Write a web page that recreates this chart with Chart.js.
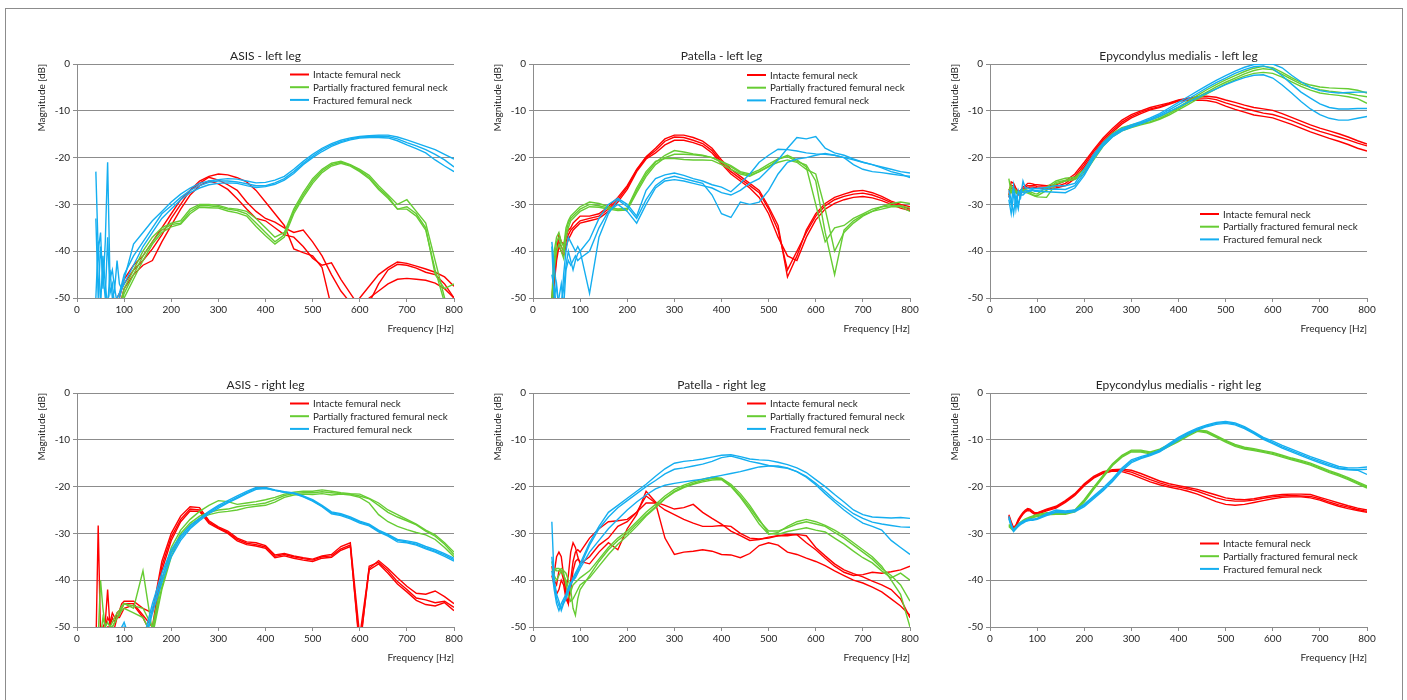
<!DOCTYPE html>
<html><head><meta charset="utf-8">
<script src="https://cdn.jsdelivr.net/npm/chart.js@4.4.1/dist/chart.umd.min.js"></script>
<style>
html,body{margin:0;padding:0;background:#fff;width:1407px;height:700px;overflow:hidden}
#frame{position:absolute;left:5px;top:8px;width:1398px;height:720px;border:1px solid #8c8c8c;box-sizing:border-box}
canvas{position:absolute}
</style></head><body>
<div id="frame"></div>
<canvas id="c1" width="442" height="305" style="left:32px;top:34px"></canvas>
<canvas id="c2" width="442" height="305" style="left:488px;top:34px"></canvas>
<canvas id="c3" width="442" height="305" style="left:945px;top:34px"></canvas>
<canvas id="c4" width="442" height="305" style="left:32px;top:363px"></canvas>
<canvas id="c5" width="442" height="305" style="left:488px;top:363px"></canvas>
<canvas id="c6" width="442" height="305" style="left:945px;top:363px"></canvas>
<script>
// Frequency grid [Hz]
const FREQ = [40,45,50,55,60,65,70,75,80,85,90,95,100,
  120,140,160,180,200, 220,240,260,280,300, 320,340,360,380,400,
  420,440,460,480,500, 520,540,560,580,600, 620,640,660,680,700, 720,740,760,780,800];

const SERIES_NAMES = ['Intacte femural neck','Partially fractured femural neck','Fractured femural neck'];
const X_TICKS = [0,100,200,300,400,500,600,700,800];
const Y_TICKS = [0,-10,-20,-30,-40,-50];

// ---- ASIS - left leg ----
const asisL_int1 = [-55,-55,-55,-55,-55,-55,-55,-55,-53,-50,-49,-48,-47,
  -44,-42,-39.5,-36.5,-33, -30,-27,-25,-24,-23.5, -23.7,-24.3,-25.2,-27,-29.5,
  -32,-34.5,-39.5,-40.3,-41, -43.5,-52,-54,-53,-50, -47.5,-45,-43.5,-42.3,-42.6, -43.2,-43.8,-44.5,-45.5,-47.5];
const asisL_int2 = [-55,-55,-55,-55,-55,-55,-55,-55,-55,-52,-50,-48,-46,
  -43,-41,-38,-35,-32, -29,-27,-25.5,-24.2,-24.8, -25.8,-27,-29.5,-31.5,-33,
  -33.8,-35,-36,-35.5,-38, -41,-45,-48.5,-51,-52, -50,-48.5,-47,-46,-45.8, -46,-46.2,-46.8,-48,-50];
const asisL_int3 = [-55,-55,-55,-55,-55,-55,-55,-55,-55,-55,-52,-50,-48,
  -45,-43,-42,-38,-34.5, -31,-28,-26,-25,-25.6, -26.8,-28.8,-31,-33,-33.5,
  -35,-36.5,-37,-39,-41.5, -43,-42.5,-46,-49,-52, -51,-47,-44,-42.8,-43, -43.6,-44.5,-45,-47,-50];
const asisL_part1 = [-55,-55,-55,-55,-55,-55,-55,-55,-55,-55,-52,-50,-48,
  -44,-40,-37,-35,-34, -33.5,-31,-30,-30,-30.2, -30.8,-31,-31.5,-33,-35,
  -37,-36,-31,-27.5,-24.5, -22.5,-21.2,-20.8,-21.5,-22.5, -23.8,-26,-28,-30,-29, -31.5,-34,-42,-50,-52];
const asisL_part2 = [-55,-55,-55,-55,-55,-55,-55,-55,-55,-55,-53,-51,-49,
  -45,-41,-38,-35.5,-34.3, -34,-31.5,-30.3,-30.3,-30.5, -31,-31.3,-32,-34,-36,
  -38,-36.5,-31.5,-28,-25, -22.8,-21.5,-21,-21.6,-22.8, -24.2,-26.5,-28.3,-31,-30.5, -32,-35,-45,-48,-47];
const asisL_part3 = [-55,-55,-55,-55,-55,-55,-55,-55,-55,-55,-55,-52,-50,
  -46,-42,-38.5,-36,-34.8, -34.2,-32,-30.6,-30.7,-30.8, -31.4,-31.8,-32.5,-34.7,-36.7,
  -38.5,-37,-32,-28.5,-25.5, -23.2,-21.8,-21.2,-21.8,-23, -24.5,-26.8,-28.7,-31,-31, -32.5,-35.5,-44,-51,-53];
const asisL_frac1 = [-23,-40,-36,-48,-38,-21,-46,-44,-48,-42,-47,-48,-46,
  -38.5,-36,-33.5,-31.5,-29.5, -27.8,-26.5,-25.5,-25,-24.7, -24.5,-24.6,-25,-25.4,-25.3,
  -24.8,-24,-22.5,-20.8,-19.3, -18,-17,-16.3,-15.8,-15.5, -15.3,-15.2,-15.2,-15.6,-16.2, -16.9,-17.6,-18.3,-19.3,-20.3];
const asisL_frac2 = [-33,-50,-39,-45,-50,-37,-49,-47,-52,-50,-49,-47,-45,
  -41,-38,-35,-32,-30.3, -28.5,-27,-26,-25.3,-25, -25,-25.2,-25.6,-26,-26,
  -25.4,-24.5,-23,-21.2,-19.7, -18.3,-17.3,-16.6,-16,-15.6, -15.5,-15.4,-15.5,-16,-16.8, -17.5,-18.3,-19.3,-20.5,-22];
const asisL_frac3 = [-50,-38,-52,-41,-47,-52,-44,-50,-48,-51,-50,-48,-47,
  -43,-39,-36,-33,-31, -29,-27.5,-26.5,-25.8,-25.5, -25.4,-25.5,-26,-26.4,-26.2,
  -25.7,-24.8,-23.4,-21.5,-20, -18.7,-17.6,-16.8,-16.2,-15.8, -15.7,-15.7,-15.8,-16.4,-17.3, -18.1,-19,-20.5,-21.8,-23];

// ---- Patella - left leg ----
const patL_int1 = [-50,-44,-40,-36.5,-38,-38.5,-37,-35.5,-35,-34,-33.5,-33,-32.5,
  -32.5,-32,-30.5,-28.5,-26, -22.5,-19.8,-18,-16,-15.2, -15.2,-15.7,-16.5,-18,-20.5,
  -22.5,-24,-25.5,-27,-30.5, -34.5,-45.5,-41,-35.5,-32, -29.8,-28.5,-27.8,-27.2,-27, -27.5,-28.3,-29.3,-30,-30.5];
const patL_int2 = [-52,-46,-41,-38,-39,-40,-38,-36.5,-35.5,-35,-34.5,-34,-33.5,
  -33,-32.5,-31,-29,-26.3, -22.7,-20,-18.5,-16.5,-15.6, -15.7,-16.3,-17,-18.5,-21,
  -23,-24.5,-26,-27.5,-31, -35.5,-44,-40,-36,-32.5, -30.3,-29,-28.3,-27.8,-27.6, -28,-28.7,-29.6,-30.3,-31];
const patL_int3 = [-55,-47,-42,-39,-40,-41,-39,-37.5,-36.5,-35.5,-35,-34.5,-34,
  -33.5,-33,-31.5,-29.5,-26.8, -23,-20.3,-19,-17.3,-16.3, -16.3,-16.8,-17.5,-19,-21.3,
  -23.5,-25,-26.5,-28.5,-32, -37,-41,-42,-37,-33.3, -31,-29.8,-29,-28.5,-28.3, -28.6,-29.2,-30,-30.8,-31.3];
const patL_part1 = [-52,-42,-38,-37,-39,-40,-36,-34,-33,-32.5,-32,-31.5,-31,
  -30,-30.3,-30.8,-31,-31, -27,-23.5,-21,-19.5,-18.5, -18.8,-19.2,-19.5,-20,-21,
  -22,-23.2,-23.8,-23,-22, -20.3,-19.5,-20.5,-22,-30, -38,-35,-34.5,-33,-32, -31,-30.5,-30.3,-30.3,-30.8];
const patL_part2 = [-55,-44,-40,-38.5,-40,-41.5,-37,-35,-33.5,-33,-32.5,-32,-31.5,
  -30.5,-30.6,-31,-31.3,-31.2, -27.5,-24,-21.5,-20,-19.3, -19.3,-19.4,-19.6,-20,-20.8,
  -21.7,-23,-23.5,-22.6,-21.4, -20.3,-19.8,-20.8,-21.6,-25, -36,-45,-35.5,-33.5,-32.3, -31.5,-31,-30.5,-30.5,-31.5];
const patL_part3 = [-50,-40,-37,-36,-38,-39,-35,-33.5,-32.5,-32,-31.5,-31,-30.5,
  -29.5,-29.8,-30.5,-31,-30.8, -26.5,-23,-20.8,-20.2,-20.2, -20.4,-20.5,-20.5,-20.6,-21.5,
  -22.5,-23.5,-24,-23,-21.8, -21,-20.5,-21,-22.5,-23.5, -31,-40,-36,-34,-32.5, -31.5,-30.5,-29.8,-29.5,-29.8];
const patL_frac1 = [-39,-50,-47,-52,-53,-45,-40,-37,-38,-39,-40,-39,-40,
  -49,-37,-32,-29,-30.5, -33,-29,-26,-24.5,-24, -24.5,-25,-25.5,-28,-32,
  -32.8,-29.5,-30,-29.5,-27, -23.5,-21,-20.3,-20,-19.5, -19.1,-19.5,-20,-21.5,-22.5, -23,-23.2,-23.5,-23.8,-24];
const patL_frac2 = [-45,-48,-52,-50,-47,-52,-44,-42,-43,-42,-41,-42,-41.5,
  -40,-35,-31.5,-30,-31.5, -34,-30,-26.5,-25,-24.7, -25,-25.5,-26,-26.5,-27.5,
  -28,-27,-25.5,-24.5,-22.5, -20.5,-18,-15.7,-16,-15.5, -18,-19,-19.5,-20.3,-21, -21.5,-22,-22.5,-23,-23.3];
const patL_frac3 = [-38,-43,-48,-52,-51,-48,-43,-40,-42,-44,-42,-40.5,-40,
  -37.5,-33,-30,-28.7,-30, -32.5,-27,-24.5,-23.7,-23.3, -23.8,-24.5,-25,-25.8,-26.3,
  -27.3,-25.5,-23.5,-21,-19.5, -18.2,-18.3,-18.6,-19,-19.2, -19.3,-19.5,-20,-20.5,-21, -21.5,-22.2,-23,-23.5,-24.3];

// ---- Epycondylus medialis - left leg ----
const epiL_int1 = [-28,-25.2,-25.5,-26.5,-27.3,-27,-26.3,-26,-25.5,-25.5,-25.6,-25.8,-25.8,
  -26,-25.8,-25,-23.5,-21, -18.3,-15.8,-13.8,-12,-10.8, -10,-9.3,-8.8,-8.3,-7.7,
  -7.3,-7,-6.9,-7.1,-7.7, -8.2,-8.8,-9.3,-9.6,-9.9, -10.6,-11.4,-12.2,-13,-13.7, -14.3,-14.9,-15.6,-16.4,-17.1];
const epiL_int2 = [-27,-26,-26,-27,-27.8,-27.5,-26.8,-26.3,-26,-26,-26,-26,-26.2,
  -26.3,-26.2,-25.5,-24,-21.5, -18.7,-16.2,-14.2,-12.4,-11.2, -10.3,-9.6,-9.1,-8.4,-7.8,
  -7.5,-7.3,-7.3,-7.6,-8.3, -8.9,-9.5,-10,-10.5,-10.8, -11.4,-12.1,-12.9,-13.7,-14.4, -15,-15.6,-16.2,-16.9,-17.5];
const epiL_int3 = [-28.5,-26.5,-26.5,-27.5,-28,-27.8,-27,-26.6,-26.4,-26.3,-26.3,-26.4,-26.5,
  -26.7,-26.5,-26,-24.5,-22, -19.2,-16.6,-14.6,-12.8,-11.5, -10.6,-9.8,-9.3,-8.6,-7.9,
  -7.8,-7.7,-7.8,-8.2,-9, -9.7,-10.3,-10.9,-11.2,-11.5, -12.2,-12.9,-13.7,-14.5,-15.2, -15.9,-16.5,-17.2,-18,-18.6];
const epiL_part1 = [-24.5,-27.5,-26.5,-27,-27.5,-27.2,-26.8,-26.8,-27,-27.3,-27.5,-27.7,-27.8,
  -26.3,-25,-24.4,-24.2,-22.5, -19.5,-16.8,-14.8,-13.6,-13, -12.5,-12,-11.3,-10.3,-9.2,
  -8,-6.7,-5.5,-4.4,-3.4, -2.5,-1.6,-0.9,-0.5,-0.8, -1.8,-2.9,-3.9,-4.5,-4.9, -5.1,-5.2,-5.3,-5.6,-6.2];
const epiL_part2 = [-27,-26,-27.5,-27.2,-27.4,-27.3,-27,-27.1,-27.3,-27.6,-27.9,-28.1,-28.2,
  -27,-25.3,-24.8,-24.5,-23, -20,-17.2,-15.2,-14,-13.3, -12.8,-12.3,-11.6,-10.6,-9.5,
  -8.3,-7.1,-6,-4.9,-3.9, -3,-2.1,-1.4,-1,-1.2, -2.2,-3.3,-4.3,-5,-5.5, -5.8,-6,-6.3,-6.7,-7];
const epiL_part3 = [-28,-27,-27,-27.5,-27.8,-27.5,-27.3,-27.4,-27.6,-27.8,-28,-28.2,-28.4,
  -28.5,-25.6,-25,-24.7,-23.5, -20.5,-17.6,-15.5,-14.3,-13.6, -13,-12.5,-11.8,-10.9,-9.8,
  -8.7,-7.5,-6.4,-5.3,-4.3, -3.4,-2.6,-2,-1.8,-2, -2.8,-3.8,-4.8,-5.6,-6.2, -6.5,-6.7,-7,-7.4,-8.4];
const epiL_frac1 = [-28,-30,-26,-31,-27,-28.5,-25,-26.5,-26.5,-26.7,-26.5,-26.6,-26.6,
  -26.4,-26,-26,-25.5,-22.5, -19.3,-16.8,-15,-13.8,-13, -12.3,-11.5,-10.6,-9.4,-8.2,
  -7,-5.8,-4.6,-3.5,-2.5, -1.5,-0.7,-0.1,0,0, -0.8,-2.4,-3.8,-5,-5.7, -6,-6.2,-6.1,-6,-6];
const epiL_frac2 = [-29,-32,-28,-29,-31,-27,-27.5,-27,-27,-27,-26.8,-27,-27,
  -26.8,-26.7,-26.8,-26,-23.3, -19.8,-17.2,-15.3,-14,-13.3, -12.6,-11.8,-10.9,-9.8,-8.7,
  -7.5,-6.3,-5.1,-4,-3, -2,-1.2,-0.6,-0.4,-1, -2.5,-4.3,-6,-7.3,-8.5, -9.3,-9.6,-9.6,-9.5,-9.5];
const epiL_frac3 = [-27,-29,-32,-28,-30,-28,-28,-27.5,-27.3,-27.2,-27,-27.2,-27.2,
  -27.3,-27.4,-27.5,-26.5,-23.8, -20.2,-17.5,-15.6,-14.3,-13.5, -12.8,-12,-11.2,-10.2,-9.2,
  -8.2,-7.2,-6.2,-5.3,-4.4, -3.6,-2.9,-2.4,-2.3,-3, -4.5,-6.2,-8,-9.6,-10.8, -11.6,-12,-12,-11.6,-11.2];

// ---- ASIS - right leg ----
const asisR_int1 = [-55,-28.3,-52,-50,-49,-42,-50,-48,-49,-47,-46.5,-45,-44.5,
  -44.5,-46,-47,-36,-30, -26.3,-24.3,-24.5,-27.3,-28.6, -29.5,-31,-31.8,-32,-32.6,
  -34.6,-34.3,-34.8,-35.2,-35.5, -34.8,-34.5,-32.8,-32,-52, -37.5,-35.8,-37.5,-39.5,-41.3, -42.8,-43,-42.3,-43.5,-45];
const asisR_int2 = [-55,-55,-55,-52,-50,-48,-49,-47,-48,-48,-47,-46,-45,
  -45,-47.5,-50,-37,-30.8, -27,-24.8,-25,-27.6,-28.8, -29.8,-31.3,-32.1,-32.4,-32.9,
  -34.9,-34.5,-35,-35.4,-35.7, -35,-34.8,-33.3,-32.5,-55, -37,-36.2,-38,-40.3,-42, -43.8,-44.2,-44.8,-44.5,-45.8];
const asisR_int3 = [-55,-55,-55,-55,-52,-50,-50,-52,-50,-48,-48,-47,-46,
  -45.3,-48,-52,-38,-31.5, -27.5,-25.2,-25.3,-27.9,-29, -30,-31.6,-32.4,-32.7,-33.2,
  -35.2,-34.8,-35.3,-35.7,-36, -35.3,-35.1,-33.6,-32.8,-54, -37.8,-36.5,-38.5,-40.8,-42.5, -44.3,-45.2,-45.5,-44.8,-46.5];
const asisR_part1 = [-55,-52,-40,-46,-50,-49,-50,-50,-49,-48,-47.5,-46,-45,
  -45.5,-46,-50,-40,-33, -29.3,-27,-25.3,-24,-23, -23.2,-23.8,-23.5,-23.2,-22.8,
  -22.3,-21.6,-21.2,-21,-21, -20.7,-21,-21.3,-21.5,-21.6, -22.5,-23.5,-25,-26,-27, -28,-29.3,-30.3,-32,-34];
const asisR_part2 = [-55,-55,-52,-48,-50,-51,-50,-49,-48,-47,-46.5,-45.5,-45,
  -46,-38,-51,-41.5,-34, -30,-27.8,-26.3,-25.5,-25, -24.8,-24.3,-24,-23.8,-23.5,
  -22.8,-21.9,-21.5,-21.3,-21.3, -21.1,-21.3,-21.5,-21.6,-22, -22.6,-24,-25.5,-26.5,-27.3, -28.2,-29.5,-30.6,-32.3,-34.5];
const asisR_part3 = [-55,-55,-55,-55,-52,-51,-50,-50,-49,-48,-47,-46.5,-46,
  -47,-48,-52,-42,-35, -30.5,-28.2,-26.8,-26,-25.5, -25.3,-25,-24.5,-24.2,-24,
  -23.3,-22.3,-21.8,-21.6,-21.7, -21.5,-21.8,-21.6,-21.8,-22.3, -23.5,-26,-27.5,-28.5,-29.2, -29.8,-30.3,-31.3,-33,-35];
const asisR_frac1 = [-55,-55,-55,-55,-55,-55,-55,-55,-55,-55,-53,-50,-49,
  -55,-53,-45,-38.5,-33.5, -30.5,-28.3,-26.8,-25.3,-24, -23,-22,-21,-20.2,-20.3,
  -20.8,-21.2,-21.3,-22,-22.8, -24,-25.4,-25.8,-26.5,-27.4, -28,-29.3,-30.2,-31.3,-31.6, -32,-32.8,-33.5,-34.3,-35.3];
const asisR_frac2 = [-55,-55,-55,-55,-55,-55,-55,-55,-55,-55,-55,-52,-50,
  -55,-55,-46,-39.5,-34.2, -31,-28.7,-27,-25.5,-24.3, -23.3,-22.3,-21.3,-20.4,-20.2,
  -20.7,-21.1,-21.4,-22.1,-23, -24.2,-25.6,-26,-26.7,-27.6, -28.2,-29.5,-30.4,-31.5,-31.8, -32.3,-33.1,-33.8,-34.6,-35.6];
const asisR_frac3 = [-55,-55,-55,-55,-55,-55,-55,-55,-55,-55,-55,-55,-52,
  -55,-55,-47,-40.5,-35, -31.5,-29,-27.3,-25.8,-24.6, -23.5,-22.5,-21.5,-20.6,-20.4,
  -20.8,-21.2,-21.5,-22.2,-23.1, -24.3,-25.8,-26.2,-26.9,-27.8, -28.4,-29.7,-30.6,-31.8,-32, -32.5,-33.3,-34,-34.9,-35.9];

// ---- Patella - right leg ----
const patR_int1 = [-38,-38.5,-35,-34,-35,-39,-43,-45,-40,-36,-34,-33.5,-34,
  -31,-29,-27.5,-27.3,-27, -25.5,-23.5,-23.5,-31,-34.5, -34,-33.8,-33.5,-33.8,-34.5,
  -34.6,-35.2,-34.3,-32.6,-32, -32.5,-34,-34.5,-35.3,-36, -36.9,-38,-39,-40,-40.6, -41.5,-42.5,-44,-45.5,-47.5];
const patR_int2 = [-37,-40,-41,-38,-38,-40,-42,-39,-34,-32,-33,-35,-36.5,
  -35,-32.5,-31,-28.5,-27.5, -25.5,-22,-23.5,-25,-26, -27,-27.8,-28.5,-28.5,-28.3,
  -28.5,-30,-31,-31.2,-31, -30.5,-30.2,-30.3,-32,-33.5, -35.3,-37,-38.3,-39,-38.8, -38.3,-38.5,-38.2,-37.8,-37];
const patR_int3 = [-39,-41,-43,-42,-40,-41,-44,-45,-42,-38,-36,-35.5,-36,
  -36.5,-34,-32,-33.5,-29, -26,-21,-23.3,-24,-24.8, -24.5,-23.8,-25.5,-26.8,-28,
  -29.5,-30.5,-31.5,-31.3,-30.8, -30.5,-30.5,-30.2,-30.5,-33, -34.8,-36.5,-37.8,-38.6,-39.3, -40.2,-41,-42,-44,-48];
const patR_part1 = [-37,-37.5,-38,-38,-37.5,-38,-38.5,-40,-42,-46,-47.5,-44,-42,
  -39,-36,-33.5,-31.5,-30, -28,-26,-24.3,-22.5,-21, -20,-19.3,-18.7,-18.3,-18.3,
  -19.8,-22,-24.5,-27.3,-29.5, -29.5,-28.8,-28,-27.5,-28, -28.5,-29.8,-31,-32.5,-34, -35.5,-37.5,-39,-41,-44.5];
const patR_part2 = [-38,-38,-37.5,-37.5,-38,-39,-40,-41.5,-42.5,-41,-40.5,-40,-39.5,
  -38,-35.5,-33,-31,-29.5, -27.5,-25.5,-23.8,-22,-20.6, -19.7,-19,-18.4,-18,-18.2,
  -19.5,-21.5,-24,-27,-30, -30.2,-29.6,-29.2,-28.8,-29.3, -29.7,-31,-32.3,-33.8,-35.2, -36.3,-38,-39.5,-38.5,-40];
const patR_part3 = [-36,-39,-40,-39,-38,-38.5,-41,-43,-44.5,-44,-43,-42,-41,
  -39.5,-37,-34.5,-32.3,-30.5, -28.5,-26.3,-24.5,-22.6,-21.2, -20.2,-19.5,-19,-18.6,-18.5,
  -20,-22.3,-25,-28,-30.2, -29.8,-28.5,-27.5,-27,-27.5, -28.3,-29.3,-30.5,-32,-33.5, -35,-37,-40,-43,-50];
const patR_frac1 = [-27.5,-40,-43,-44.5,-46.5,-45,-44,-42.5,-41,-39.5,-38.5,-37.5,-36.5,
  -32,-28.5,-25.5,-24,-22.5, -21,-19.5,-17.8,-16.2,-15, -14.6,-14.4,-14.1,-13.7,-13.3,
  -13.2,-13.6,-14.1,-14.3,-14.4, -14.8,-15.3,-16,-17,-18.5, -20,-21.7,-23.3,-25,-26, -26.5,-26.6,-26.7,-26.6,-26.8];
const patR_frac2 = [-35,-41,-44,-45.5,-46,-44.5,-43.5,-42,-41,-40,-39,-38,-37,
  -32.5,-29,-26.5,-24.5,-23, -21.5,-20,-18.7,-17.3,-16.3, -16,-15.6,-15.2,-14.6,-13.8,
  -13.5,-14,-14.6,-15,-15.5, -15.8,-16.1,-16.8,-17.8,-19.3, -21,-22.8,-24.3,-25.8,-26.8, -27.6,-28,-28.3,-28.6,-28.7];
const patR_frac3 = [-38,-42,-45,-46.5,-45,-44,-43,-41.5,-40.5,-40,-39.5,-38.5,-37.5,
  -34,-31.5,-29,-27,-25, -23.3,-21.8,-20.5,-19.7,-19.3, -19,-18.7,-18.4,-18,-17.6,
  -17.2,-16.8,-16.3,-15.8,-15.6, -15.6,-16,-16.8,-18,-19.6, -21.5,-23.3,-25,-26.5,-27.8, -28.5,-29.3,-31.5,-33,-34.5];

// ---- Epycondylus medialis - right leg ----
const epiR_int1 = [-26,-27.5,-28.8,-28.2,-27,-26.2,-25.5,-25,-24.7,-24.8,-25.2,-25.6,-25.6,
  -24.8,-24.2,-23,-21.5,-19.4, -17.8,-16.8,-16.4,-16.3,-16.5, -17.2,-18,-18.8,-19.4,-19.8,
  -20.2,-20.6,-21.2,-21.8,-22.4, -22.7,-22.8,-22.6,-22.2,-21.9, -21.7,-21.6,-21.6,-21.7,-22.3, -22.9,-23.5,-24.1,-24.6,-25];
const epiR_int2 = [-26.3,-27.8,-29,-28.4,-27.3,-26.4,-25.7,-25.2,-24.9,-25,-25.4,-25.7,-25.7,
  -25,-24.4,-23.2,-21.7,-19.6, -18,-17,-16.6,-16.5,-16.9, -17.7,-18.5,-19.2,-19.8,-20.1,
  -20.5,-21,-21.7,-22.4,-22.9, -23.1,-23.1,-22.9,-22.5,-22.2, -22,-21.9,-22,-22.1,-22.6, -23.3,-23.9,-24.4,-24.9,-25.3];
const epiR_int3 = [-26.5,-28,-29.2,-28.6,-27.5,-26.6,-25.9,-25.4,-25.1,-25.2,-25.6,-25.9,-25.9,
  -25.2,-24.6,-23.4,-21.9,-19.8, -18.2,-17.2,-16.7,-16.8,-17.4, -18.2,-19,-19.6,-20.1,-20.5,
  -21,-21.6,-22.4,-23.2,-23.8, -24,-23.8,-23.4,-23,-22.6, -22.3,-22.2,-22.2,-22.4,-22.9, -23.6,-24.2,-24.7,-25.1,-25.5];
const epiR_part1 = [-28.3,-28.8,-29.3,-28.8,-28.2,-27.8,-27.4,-27.1,-26.9,-26.7,-26.5,-26.3,-26.2,
  -25.8,-25.7,-25.7,-25.2,-23, -20.3,-17.8,-15.3,-13.5,-12.4, -12.4,-12.8,-12.2,-11.2,-10.2,
  -9,-8,-8.3,-9.3,-10.3, -11.2,-11.8,-12.1,-12.5,-12.9, -13.5,-14.1,-14.6,-15.2,-16, -16.8,-17.5,-18.3,-19.2,-20.1];
const epiR_part2 = [-28.5,-29,-29.5,-29,-28.4,-28,-27.6,-27.3,-27.1,-26.9,-26.7,-26.5,-26.4,
  -26,-25.9,-25.9,-25.4,-23.3, -20.6,-18,-15.5,-13.7,-12.6, -12.6,-13,-12.4,-11.4,-10.4,
  -9.2,-8.2,-8.5,-9.5,-10.5, -11.4,-12,-12.3,-12.7,-13.1, -13.7,-14.3,-14.8,-15.4,-16.2, -17,-17.7,-18.5,-19.4,-20.3];
const epiR_part3 = [-28.1,-28.6,-29.1,-28.6,-28,-27.6,-27.2,-26.9,-26.7,-26.5,-26.3,-26.1,-26,
  -25.6,-25.5,-25.5,-25,-22.8, -20.1,-17.6,-15.1,-13.3,-12.2, -12.2,-12.6,-12,-11,-10,
  -8.8,-7.9,-8.1,-9.1,-10.1, -11,-11.6,-11.9,-12.3,-12.7, -13.3,-13.9,-14.4,-15,-15.8, -16.6,-17.3,-18.1,-19,-19.9];
const epiR_frac1 = [-26.3,-28,-29.3,-28.7,-28.1,-27.7,-27.4,-27.2,-27,-26.9,-26.9,-26.9,-26.8,
  -25.8,-25,-25.2,-25,-23.8, -22,-20.3,-18.3,-16,-14.3, -13.6,-13,-12.2,-10.8,-9.5,
  -8.4,-7.5,-6.8,-6.3,-6.1, -6.4,-7.2,-8.3,-9.5,-10.3, -11.2,-12,-12.8,-13.6,-14.3, -15,-15.7,-16,-16,-15.8];
const epiR_frac2 = [-26.6,-28.3,-29.5,-28.9,-28.3,-27.9,-27.6,-27.4,-27.2,-27.1,-27.1,-27,-26.9,
  -26,-25.3,-25.4,-25.2,-24, -22.3,-20.6,-18.6,-16.3,-14.6, -13.8,-13.2,-12.4,-11,-9.7,
  -8.6,-7.7,-7,-6.5,-6.3, -6.6,-7.4,-8.5,-9.7,-10.6, -11.5,-12.3,-13.1,-13.9,-14.6, -15.3,-16,-16.3,-16.4,-16.3];
const epiR_frac3 = [-26.9,-28.5,-29.6,-29,-28.5,-28.1,-27.8,-27.5,-27.3,-27.2,-27.2,-27.1,-27,
  -26.2,-25.5,-25.6,-25.4,-24.3, -22.6,-20.9,-18.9,-16.6,-14.9, -14,-13.4,-12.6,-11.3,-10,
  -8.9,-7.9,-7.2,-6.7,-6.5, -6.8,-7.6,-8.7,-9.9,-10.8, -11.8,-12.6,-13.4,-14.2,-14.9, -15.6,-16.2,-16.4,-16.5,-17.4];

const COLORS = ['#ff0000', '#66cc33', '#14aef0'];
const TEXT = '#262626';
const GRID = '#8c8c8c';

const PANELS = [
  {id:'c1', title:'ASIS - left leg', dx:213, dy:10.5,
   groups:[[asisL_int1,asisL_int2,asisL_int3],[asisL_part1,asisL_part2,asisL_part3],[asisL_frac1,asisL_frac2,asisL_frac3]]},
  {id:'c2', title:'Patella - left leg', dx:214, dy:11,
   groups:[[patL_int1,patL_int2,patL_int3],[patL_part1,patL_part2,patL_part3],[patL_frac1,patL_frac2,patL_frac3]]},
  {id:'c3', title:'Epycondylus medialis - left leg', dx:210, dy:150,
   groups:[[epiL_int1,epiL_int2,epiL_int3],[epiL_part1,epiL_part2,epiL_part3],[epiL_frac1,epiL_frac2,epiL_frac3]]},
  {id:'c4', title:'ASIS - right leg', dx:213, dy:10.5,
   groups:[[asisR_int1,asisR_int2,asisR_int3],[asisR_part1,asisR_part2,asisR_part3],[asisR_frac1,asisR_frac2,asisR_frac3]]},
  {id:'c5', title:'Patella - right leg', dx:214, dy:10.5,
   groups:[[patR_int1,patR_int2,patR_int3],[patR_part1,patR_part2,patR_part3],[patR_frac1,patR_frac2,patR_frac3]]},
  {id:'c6', title:'Epycondylus medialis - right leg', dx:210, dy:150.5,
   groups:[[epiR_int1,epiR_int2,epiR_int3],[epiR_part1,epiR_part2,epiR_part3],[epiR_frac1,epiR_frac2,epiR_frac3]]}
];

Chart.defaults.font.family = 'Lato, "Open Sans", "DejaVu Sans", sans-serif';
Chart.defaults.color = TEXT;

const decoPlugin = {
  id: 'panelDeco',
  afterDraw(chart, args, opts) {
    const {ctx, chartArea} = chart;
    ctx.save();
    ctx.fillStyle = TEXT;
    ctx.font = '12px Lato, "Open Sans", sans-serif';
    ctx.textAlign = 'center';
    ctx.textBaseline = 'middle';
    ctx.fillText(opts.title, (chartArea.left + chartArea.right) / 2, chartArea.top - 8);
    ctx.font = '9.8px Lato, "Open Sans", sans-serif';
    ctx.textAlign = 'left';
    const x0 = chartArea.left + opts.dx;
    SERIES_NAMES.forEach((name, i) => {
      const y = chartArea.top + opts.dy + i * 12.7;
      ctx.strokeStyle = COLORS[i];
      ctx.lineWidth = 2;
      ctx.beginPath();
      ctx.moveTo(x0, y);
      ctx.lineTo(x0 + 19, y);
      ctx.stroke();
      ctx.fillStyle = TEXT;
      ctx.fillText(name, x0 + 23, y + 0.5);
    });
    ctx.restore();
  }
};

PANELS.forEach(p => {
  const datasets = [];
  p.groups.forEach((lines, g) => {
    lines.forEach(arr => {
      datasets.push({
        data: FREQ.map((f, i) => ({x: f, y: arr[i]})),
        borderColor: COLORS[g],
        borderWidth: 1.4,
        pointRadius: 0,
        tension: 0,
        fill: false,
        order: 2 - g
      });
    });
  });
  new Chart(document.getElementById(p.id), {
    type: 'line',
    data: {datasets},
    plugins: [decoPlugin],
    options: {
      responsive: false,
      animation: false,
      devicePixelRatio: 1,
      events: [],
      layout: {padding: {left: 0, top: 30, right: 20, bottom: 0}},
      plugins: {
        legend: {display: false},
        tooltip: {enabled: false},
        panelDeco: {title: p.title, dx: p.dx, dy: p.dy}
      },
      scales: {
        x: {
          type: 'linear', min: 0, max: 800,
          afterBuildTicks: s => { s.ticks = X_TICKS.map(v => ({value: v})); },
          afterFit: s => { s.height = 41; },
          ticks: {font: {size: 10}, color: TEXT, padding: 2, maxRotation: 0, autoSkip: false},
          grid: {drawOnChartArea: false, drawTicks: true, tickLength: 4, color: GRID, lineWidth: 1},
          border: {display: true, color: GRID, width: 1},
          title: {display: true, text: 'Frequency [Hz]', align: 'end', font: {size: 10}, color: TEXT, padding: {top: 2, bottom: 4}}
        },
        y: {
          type: 'linear', min: -50, max: 0,
          afterBuildTicks: s => { s.ticks = Y_TICKS.map(v => ({value: v})); },
          afterFit: s => { s.width = 45; },
          ticks: {font: {size: 10}, color: TEXT, padding: 3},
          grid: {drawOnChartArea: true, drawTicks: true, tickLength: 4, color: GRID, lineWidth: 1},
          border: {display: true, color: GRID, width: 1},
          title: {display: true, text: 'Magnitude [dB]', align: 'end', font: {size: 10}, color: TEXT, padding: {top: 4, bottom: 4}}
        }
      }
    }
  });
});
</script>
</body></html>
